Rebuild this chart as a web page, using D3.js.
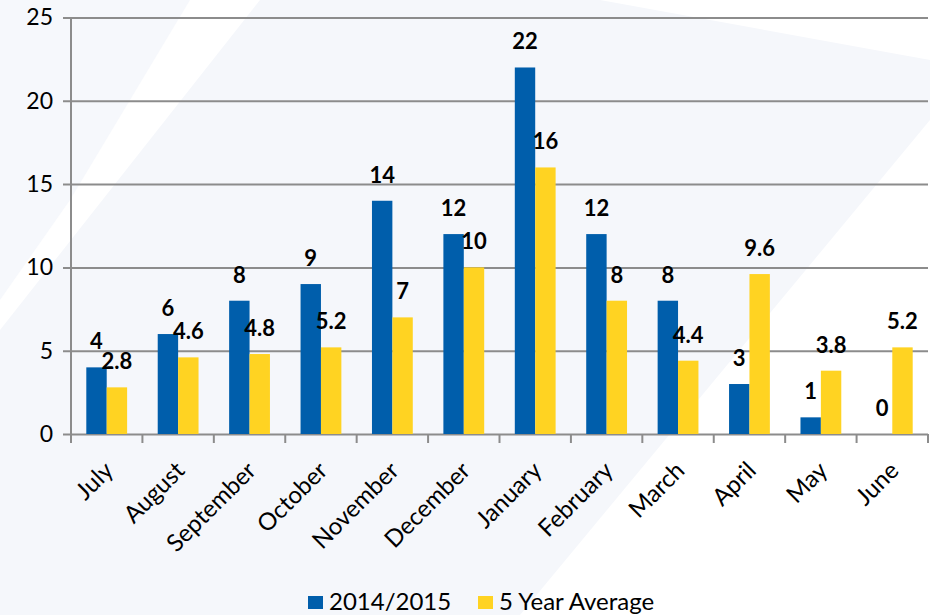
<!DOCTYPE html>
<html>
<head>
<meta charset="utf-8">
<script src="https://cdn.jsdelivr.net/npm/d3@7"></script>
<style>
  body { margin: 0; background: #fff; }
  text { font-family: Lato, "Open Sans", sans-serif; }
</style>
</head>
<body>
<svg id="chart"></svg>
<script>
// data
let months = ['July', 'August', 'September', 'October', 'November', 'December',
  'January', 'February', 'March', 'April', 'May', 'June']
let season = [4, 6, 8, 9, 14, 12, 22, 12, 8, 3, 1, 0]
let fiveYearAvg = [2.8, 4.6, 4.8, 5.2, 7, 10, 16, 8, 4.4, 9.6, 3.8, 5.2]
let seriesNames = ['2014/2015', '5 Year Average']
let seriesColors = ['#005eab', '#ffd322']
let yTicks = [0, 5, 10, 15, 20, 25]

function getConfig() {
  let width = 930
  let height = 615
  let margin = { top: 17.5, bottom: 181, left: 71, right: 2 }
  let bodyWidth = width - margin.left - margin.right
  let bodyHeight = height - margin.top - margin.bottom
  let container = d3.select('#chart')
    .attr('width', width)
    .attr('height', height)
  return { width, height, margin, bodyWidth, bodyHeight, container }
}

function drawBackground(config) {
  let { container } = config
  // faint blue swoosh behind the chart
  container.append('path')
    .attr('d', 'M0,0 L190,0 L70,200 L0,300 Z')
    .attr('fill', '#f6f8fc')
  container.append('path')
    .attr('d', 'M260,0 L930,0 L930,120 L520,615 L0,615 L0,330 Z')
    .attr('fill', '#f5f7fb')
  container.append('path')
    .attr('d', 'M600,0 L930,0 L930,60 Z')
    .attr('fill', '#fff')
  container.append('path')
    .attr('d', 'M930,400 L930,615 L760,615 Z')
    .attr('fill', '#fff')
}

function getScales(config) {
  let xScale = d3.scaleBand()
    .domain(months)
    .range([0, config.bodyWidth])
  let inner = d3.scaleBand()
    .domain(seriesNames)
    .range([0, xScale.bandwidth()])
    .paddingOuter(0.75)
  let yScale = d3.scaleLinear()
    .domain([0, 25])
    .range([config.bodyHeight, 0])
  return { xScale, inner, yScale }
}

function drawAxes(scales, config) {
  let { xScale, yScale } = scales
  let { container, margin, bodyWidth, bodyHeight } = config

  let axisY = d3.axisLeft(yScale)
    .tickValues(yTicks)
    .tickSize(-bodyWidth - 8)
    .tickPadding(18)
  let gy = container.append('g')
    .attr('transform', `translate(${margin.left},${margin.top})`)
    .call(axisY)
  gy.select('.domain').remove()
  gy.selectAll('.tick line')
    .attr('x1', -8)
    .attr('x2', bodyWidth)
    .attr('stroke', '#8c8c8c')
    .attr('stroke-width', 2)
  gy.selectAll('.tick text')
    .attr('font-size', 23)
    .attr('fill', '#000')
    .attr('font-family', 'Lato')

  // vertical axis line
  container.append('line')
    .attr('x1', margin.left).attr('x2', margin.left)
    .attr('y1', margin.top).attr('y2', margin.top + bodyHeight + 8)
    .attr('stroke', '#8c8c8c')
    .attr('stroke-width', 2)

  // category ticks at band boundaries
  let bounds = months.map(m => xScale(m)).concat([bodyWidth])
  let gx = container.append('g')
    .attr('transform', `translate(${margin.left},${margin.top + bodyHeight})`)
  gx.selectAll('line.tick')
    .data(bounds)
    .join('line')
    .attr('class', 'tick')
    .attr('x1', d => d).attr('x2', d => d)
    .attr('y1', 0).attr('y2', 9)
    .attr('stroke', '#8c8c8c')
    .attr('stroke-width', 2)

  gx.selectAll('text')
    .data(months)
    .join('text')
    .attr('transform', d => `translate(${xScale(d) + xScale.bandwidth() / 2 + 8},${38}) rotate(-45)`)
    .attr('text-anchor', 'end')
    .attr('font-size', 24)
    .attr('fill', '#000')
    .text(d => d)
}

function drawBars(scales, config) {
  let { xScale, inner, yScale } = scales
  let { container, margin } = config
  let body = container.append('g')
    .attr('transform', `translate(${margin.left},${margin.top})`)

  let rows = months.map((m, i) => ({ month: m, values: [season[i], fiveYearAvg[i]] }))

  let groups = body.selectAll('g.month')
    .data(rows)
    .join('g')
    .attr('class', 'month')
    .attr('transform', d => `translate(${xScale(d.month)},0)`)

  groups.selectAll('rect')
    .data(d => d.values.map((v, j) => ({ key: seriesNames[j], value: v, j })))
    .join('rect')
    .attr('x', d => inner(d.key))
    .attr('width', inner.bandwidth())
    .attr('y', d => yScale(d.value))
    .attr('height', d => yScale(0) - yScale(d.value))
    .attr('fill', d => seriesColors[d.j])

  groups.selectAll('text')
    .data(d => d.values.map((v, j) => ({ key: seriesNames[j], value: v })))
    .join('text')
    .attr('x', d => inner(d.key) + inner.bandwidth() / 2)
    .attr('y', d => yScale(d.value) - 18)
    .attr('text-anchor', 'middle')
    .attr('font-size', 22)
    .attr('font-weight', 'bold')
    .attr('fill', '#000')
    .text(d => d.value)
}

function drawLegend(config) {
  let { container } = config
  let items = [
    { name: seriesNames[0], color: seriesColors[0], x: 308 },
    { name: seriesNames[1], color: seriesColors[1], x: 478 }
  ]
  let g = container.append('g')
  let item = g.selectAll('g')
    .data(items)
    .join('g')
    .attr('transform', d => `translate(${d.x},596)`)
  item.append('rect')
    .attr('width', 15).attr('height', 13)
    .attr('fill', d => d.color)
  item.append('text')
    .attr('x', 21).attr('y', 14)
    .attr('font-size', 24)
    .attr('fill', '#000')
    .text(d => d.name)
}

let config = getConfig()
drawBackground(config)
let scales = getScales(config)
drawAxes(scales, config)
drawBars(scales, config)
drawLegend(config)
</script>
</body>
</html>
